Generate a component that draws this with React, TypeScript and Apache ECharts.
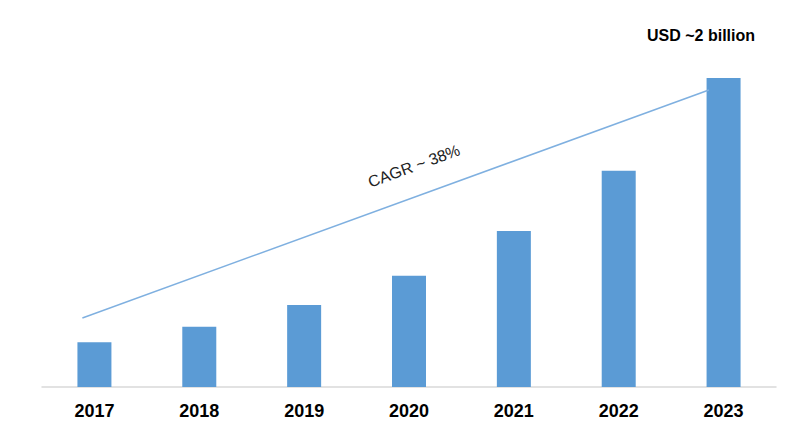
import React, { useEffect, useRef } from "react";
import * as echarts from "echarts";

const years = ["2017", "2018", "2019", "2020", "2021", "2022", "2023"];
const marketValues = [0.29, 0.39, 0.53, 0.72, 1.01, 1.4, 2.0];
const trendX = [-0.115, 5.86];
const trendY = [0.447, 1.922];
const cagrLabel = "CAGR ~ 38%";
const totalLabel = "USD ~2 billion";

export default function App() {
  const ref = useRef<HTMLDivElement>(null);
  useEffect(() => {
    const chart = echarts.init(ref.current!, null, { renderer: "svg" });
    chart.setOption({
      animation: false,
      grid: [{ left: 34, right: 16, top: 70, bottom: 48 }],
      xAxis: [
        {
          type: "category",
          data: years,
          axisLine: { lineStyle: { color: "#d9d9d9", width: 1.5 } },
          axisTick: { show: false },
          axisLabel: {
            color: "#000",
            fontFamily: "Liberation Sans, Arial, sans-serif",
            fontWeight: 900,
            fontSize: 18,
            margin: 15,
          },
        },
        { type: "value", min: -0.5, max: 6.5, show: false },
      ],
      yAxis: [{ type: "value", min: 0, max: 2.0, show: false }],
      series: [
        {
          type: "bar",
          data: marketValues,
          barWidth: 34,
          itemStyle: { color: "#5b9bd5" },
        },
        {
          type: "line",
          xAxisIndex: 1,
          data: trendX.map((x, i) => [x, trendY[i]]),
          symbol: "none",
          lineStyle: { color: "#7fb0e0", width: 1.5 },
        },
      ],
      graphic: [
        {
          type: "text",
          x: 406,
          y: 158,
          rotation: 0.349,
          style: {
            text: cagrLabel,
            fill: "#222",
            font: "16px Liberation Sans, Arial, sans-serif",
            align: "center",
            verticalAlign: "middle",
          },
        },
        {
          type: "text",
          x: 693,
          y: 27,
          style: {
            text: totalLabel,
            fill: "#000",
            font: "bold 16px Liberation Sans, Arial, sans-serif",
            align: "center",
            verticalAlign: "middle",
          },
        },
      ],
    });
    return () => chart.dispose();
  }, []);
  return <div ref={ref} style={{ width: 784, height: 427 }} />;
}
